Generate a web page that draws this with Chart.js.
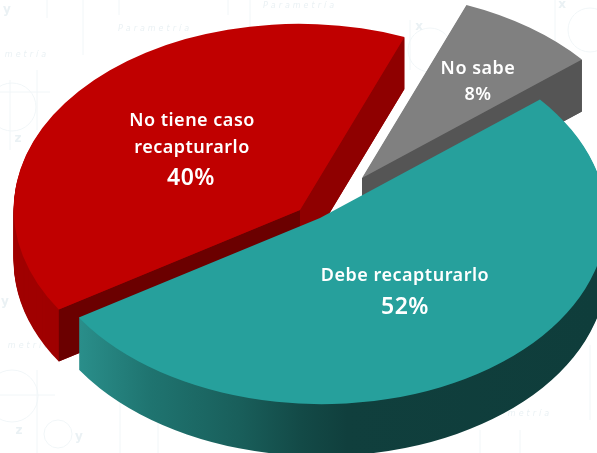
<!DOCTYPE html>
<html>
<head>
<meta charset="utf-8">
<style>html,body{margin:0;padding:0;background:#fff}canvas{display:block}</style>
<script src="https://cdn.jsdelivr.net/npm/chart.js@4/dist/chart.umd.js"></script>
</head>
<body>
<canvas id="c" width="597" height="453"></canvas>
<script>
const categories = ['No sabe', 'Debe recapturarlo', 'No tiene caso recapturarlo'];
const values = [8, 52, 40];
const topColors = ['#808080', '#26a09c', '#c00000'];
const startRotation = 24;
const sliceLabels = [
  [['No sabe', 18, 478, 69], ['8%', 18, 478, 95]],
  [['Debe recapturarlo', 18, 405, 276], ['52%', 23, 405, 307]],
  [['No tiene caso', 18, 192, 121], ['recapturarlo', 18, 192, 148], ['40%', 23, 191, 178]]
];
const watermarkWords = [[155,29,'Parametría'],[27,55,'metría'],[300,6,'Parametría'],[30,346,'metría'],[530,414,'metría']];
const watermarkSymbols = [[7,10,'y'],[18,139,'z'],[419,27,'x'],[562,5,'x'],[5,302,'y'],[19,431,'z'],[79,437,'y']];
const watermarkCircles = [[12,107,24],[12,396,26],[58,434,14],[430,50,22],[590,30,22]];
const watermarkLines = [[47,0,47,18],[83,0,83,55],[119,0,119,15],[228,0,228,15],[250,0,250,60],[410,20,410,70],[555,0,555,55],[10,80,10,150],[37,70,37,130],[0,92,50,92],[37,370,37,453],[0,395,55,395],[120,395,120,453],[158,400,158,453],[590,345,590,420],[480,430,480,453],[520,430,520,453]];

// view of the tilted pie: one projection, one apex per exploded slice
const view = {a: 286, b: -7.6, c: 13, d: 186};
const apex = [[362, 178], [320, 218], [300, 210]];
const depth = 52;
const drawOrder = [2, 0, 1];
// wall colours of each slice's two cut faces: [start edge, end edge]
const cutColors = [[null, '#555555'], [null, null], ['#6b0000', '#8f0000']];

function wallFill(ctx, i) {
  if (i === 0) return '#555555';
  if (i === 2) return '#a00000';
  const g = ctx.createLinearGradient(77, 0, 597, 0);
  [[0,'#2a8f8b'],[0.14,'#1f7470'],[0.31,'#195f5b'],[0.43,'#134a47'],[0.52,'#103f3d'],[1,'#0f3d3b']].forEach(s => g.addColorStop(s[0], s[1]));
  return g;
}
function project(ctx, arc, i, dy) {
  const r = arc.outerRadius;
  ctx.setTransform(view.a / r, view.b / r, view.c / r, view.d / r,
    apex[i][0] - (view.a * arc.x + view.c * arc.y) / r,
    apex[i][1] + dy - (view.b * arc.x + view.d * arc.y) / r);
}
function sectorPath(ctx, arc) {
  ctx.beginPath();
  ctx.moveTo(arc.x, arc.y);
  ctx.arc(arc.x, arc.y, arc.outerRadius, arc.startAngle, arc.endAngle);
  ctx.closePath();
}
function cutWall(ctx, arc, i, angle, color) {
  const r = arc.outerRadius, px = arc.x + r * Math.cos(angle), py = arc.y + r * Math.sin(angle);
  project(ctx, arc, i, 0);
  ctx.beginPath();
  ctx.moveTo(arc.x, arc.y);
  ctx.lineTo(px, py);
  project(ctx, arc, i, depth);
  ctx.lineTo(px, py);
  ctx.lineTo(arc.x, arc.y);
  ctx.closePath();
  ctx.setTransform(1, 0, 0, 1, 0, 0);
  ctx.fillStyle = color;
  ctx.fill();
}

const pie3d = {
  id: 'pie3d',
  beforeDraw(chart) {
    const ctx = chart.ctx;
    ctx.save();
    ctx.strokeStyle = '#f1f6f8';
    ctx.fillStyle = '#eaf1f4';
    ctx.lineWidth = 1;
    watermarkLines.forEach(l => { ctx.beginPath(); ctx.moveTo(l[0], l[1]); ctx.lineTo(l[2], l[3]); ctx.stroke(); });
    watermarkCircles.forEach(c => { ctx.beginPath(); ctx.arc(c[0], c[1], c[2], 0, Math.PI * 2); ctx.stroke(); });
    ctx.textAlign = 'center';
    ctx.textBaseline = 'middle';
    ctx.font = 'italic 8px "DejaVu Sans"';
    ctx.letterSpacing = '3px';
    watermarkWords.forEach(w => ctx.fillText(w[2], w[0], w[1]));
    ctx.letterSpacing = '0px';
    ctx.font = 'bold 12px "DejaVu Sans"';
    watermarkSymbols.forEach(w => ctx.fillText(w[2], w[0], w[1]));
    ctx.restore();
  },
  beforeDatasetDraw(chart) {
    const ctx = chart.ctx, arcs = chart.getDatasetMeta(0).data;
    ctx.save();
    drawOrder.forEach(i => {
      const arc = arcs[i];
      const fill = wallFill(ctx, i);
      for (let dy = depth; dy > 0; dy--) {
        project(ctx, arc, i, dy);
        sectorPath(ctx, arc);
        ctx.setTransform(1, 0, 0, 1, 0, 0);
        ctx.fillStyle = fill;
        ctx.fill();
      }
      if (cutColors[i][0]) cutWall(ctx, arc, i, arc.startAngle, cutColors[i][0]);
      if (cutColors[i][1]) cutWall(ctx, arc, i, arc.endAngle, cutColors[i][1]);
      project(ctx, arc, i, 0);
      arc.draw(ctx);
      ctx.setTransform(1, 0, 0, 1, 0, 0);
    });
    ctx.restore();
    return false;
  },
  afterDatasetsDraw(chart) {
    const ctx = chart.ctx;
    ctx.save();
    ctx.fillStyle = '#ffffff';
    ctx.textAlign = 'center';
    ctx.textBaseline = 'middle';
    ctx.letterSpacing = '0.5px';
    sliceLabels.forEach(group => group.forEach(t => {
      ctx.font = '600 ' + t[1] + 'px "Noto Sans"';
      ctx.fillText(t[0], t[2], t[3]);
    }));
    ctx.restore();
  }
};

new Chart(document.getElementById('c'), {
  type: 'pie',
  data: {
    labels: categories,
    datasets: [{data: values, backgroundColor: topColors, borderWidth: 0}]
  },
  options: {
    responsive: false,
    animation: false,
    rotation: startRotation,
    plugins: {legend: {display: false}, tooltip: {enabled: false}}
  },
  plugins: [pie3d]
});
</script>
</body>
</html>
